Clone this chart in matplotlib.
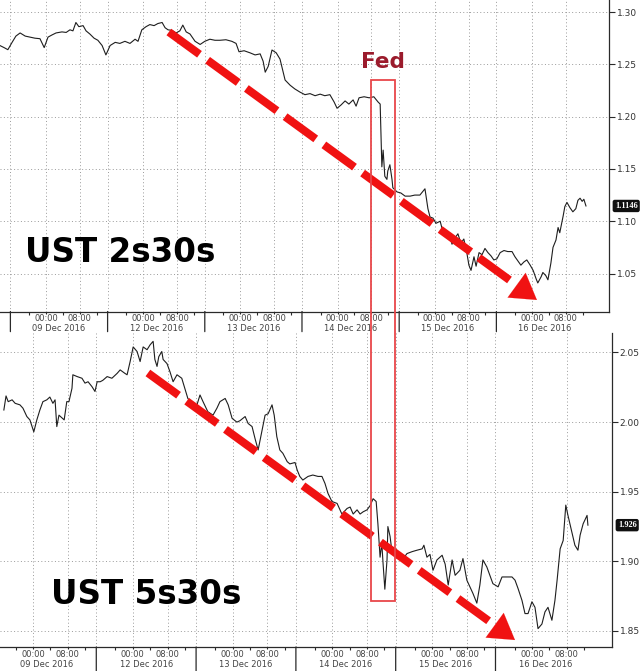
import matplotlib
matplotlib.use('Agg')
import matplotlib.pyplot as plt
import matplotlib.transforms as mtransforms
from matplotlib.patches import Rectangle

plt.rcParams['font.family'] = ['DejaVu Sans']

# ---------------- data ----------------
SESSION_HOURS = 23.0      # trading-session length shown per day
MIDNIGHT_OFFSET = 8.42    # 00:00 position inside a session (hours)
day_labels = ['09 Dec 2016', '12 Dec 2016', '13 Dec 2016',
              '14 Dec 2016', '15 Dec 2016', '16 Dec 2016']
time_labels = ['00:00', '08:00']

# UST 2s30s (session hours since 09 Dec session open, spread)
t_2s30s = [-2.5, -1.5, -0.6, 0.4, 1.3, 2.3, 3.5, 4.6, 5.8, 7.0,
           8.0, 8.9, 9.8, 10.8, 12.2, 13.2, 14.1, 14.8, 15.5, 16.2,
           17.2, 17.9, 18.8, 19.8, 20.7, 21.7, 22.6, 23.6, 24.8, 25.9,
           27.1, 28.3, 29.5, 30.2, 31.1, 32.1, 33.0, 34.0, 34.9, 35.9,
           36.6, 37.3, 38.2, 39.2, 40.1, 40.8, 41.6, 42.5, 43.7, 44.9,
           46.0, 47.2, 48.4, 49.6, 51.0, 52.4, 53.4, 54.1, 55.3, 56.7,
           57.9, 59.1, 59.8, 60.3, 61.0, 61.9, 62.9, 63.8, 65.0, 66.2,
           67.3, 68.5, 69.7, 70.9, 72.1, 73.3, 74.4, 75.6, 76.6, 77.3,
           78.2, 79.2, 80.1, 81.1, 81.8, 82.5, 83.7, 84.9, 86.0, 87.0,
           87.5, 87.9, 88.2, 88.6, 89.1, 89.3, 89.8, 90.3, 90.5, 91.5,
           92.4, 93.4, 94.6, 95.7, 96.9, 98.1, 98.8, 99.3, 100.0, 100.7,
           101.7, 102.4, 103.1, 103.8, 104.5, 105.2, 105.9, 106.6, 107.3, 108.0,
           108.5, 109.0, 109.7, 110.2, 110.9, 111.6, 112.3, 113.0, 113.7, 114.4,
           115.1, 115.9, 116.8, 117.7, 118.7, 119.4, 120.1, 120.8, 121.5, 122.2,
           123.0, 123.7, 124.4, 124.8, 125.6, 126.0, 126.7, 127.2, 127.9, 128.4,
           129.1, 129.6, 130.0, 130.8, 131.2, 131.7, 132.4, 133.1, 133.8, 134.3,
           134.8, 135.3, 135.7, 136.2]
v_2s30s = [1.268, 1.266, 1.264, 1.271, 1.277, 1.280, 1.277, 1.276, 1.275, 1.2745,
           1.266, 1.276, 1.278, 1.280, 1.281, 1.2805, 1.283, 1.282, 1.290, 1.286,
           1.287, 1.282, 1.279, 1.275, 1.273, 1.268, 1.259, 1.268, 1.271, 1.270,
           1.272, 1.270, 1.274, 1.272, 1.283, 1.286, 1.288, 1.287, 1.289, 1.290,
           1.285, 1.283, 1.2825, 1.280, 1.282, 1.2875, 1.281, 1.279, 1.272, 1.269,
           1.272, 1.274, 1.273, 1.273, 1.2735, 1.272, 1.270, 1.262, 1.263, 1.261,
           1.259, 1.260, 1.253, 1.2425, 1.248, 1.2637, 1.261, 1.255, 1.235, 1.230,
           1.2265, 1.2235, 1.221, 1.222, 1.220, 1.2215, 1.220, 1.221, 1.214, 1.208,
           1.211, 1.215, 1.212, 1.216, 1.210, 1.218, 1.219, 1.218, 1.219, 1.214,
           1.212, 1.152, 1.168, 1.143, 1.140, 1.148, 1.154, 1.140, 1.132, 1.128,
           1.127, 1.124, 1.124, 1.125, 1.125, 1.131, 1.112, 1.104, 1.103, 1.098,
           1.100, 1.089, 1.085, 1.088, 1.078, 1.084, 1.088, 1.079, 1.083, 1.070,
           1.058, 1.053, 1.066, 1.057, 1.070, 1.068, 1.074, 1.070, 1.067, 1.063,
           1.064, 1.070, 1.072, 1.071, 1.071, 1.066, 1.062, 1.058, 1.061, 1.063,
           1.058, 1.053, 1.045, 1.041, 1.047, 1.051, 1.048, 1.044, 1.060, 1.075,
           1.082, 1.094, 1.089, 1.105, 1.114, 1.118, 1.113, 1.109, 1.112, 1.120,
           1.122, 1.119, 1.121, 1.1146]

# UST 5s30s
t_5s30s = [1.7, 2.2, 2.7, 3.6, 4.3, 5.4, 6.1, 7.0, 7.7, 8.6,
           9.3, 10.0, 10.7, 11.6, 12.3, 13.0, 13.5, 13.9, 14.4, 15.1,
           15.6, 16.2, 16.7, 17.4, 17.6, 18.6, 19.7, 20.4, 21.1, 22.0,
           22.7, 23.2, 23.9, 24.5, 25.5, 26.6, 27.8, 28.5, 29.6, 30.1,
           30.8, 31.5, 32.4, 33.1, 33.8, 34.7, 35.4, 36.1, 36.5, 37.0,
           37.4, 38.1, 38.4, 39.3, 40.0, 40.7, 41.6, 42.7, 43.4, 44.1,
           45.1, 46.2, 46.9, 47.6, 48.7, 49.9, 50.8, 51.5, 52.7, 53.4,
           54.3, 55.4, 56.1, 57.3, 58.0, 58.9, 59.6, 60.3, 61.2, 61.9,
           62.6, 63.5, 64.0, 64.6, 65.3, 66.0, 67.0, 67.6, 68.8, 69.3,
           69.9, 70.6, 71.8, 72.9, 74.1, 75.0, 75.7, 76.4, 77.3, 78.5,
           79.6, 80.8, 81.5, 82.2, 83.1, 83.8, 84.5, 85.4, 86.1, 86.8,
           87.5, 87.9, 88.4, 88.8, 89.1, 89.5, 90.0, 90.2, 90.7, 91.1,
           91.8, 92.5, 93.5, 94.6, 95.8, 96.9, 98.1, 98.5, 99.2, 99.9,
           100.6, 101.5, 102.7, 103.4, 104.1, 105.0, 105.7, 106.8, 107.5, 108.4,
           109.1, 109.8, 110.7, 111.4, 112.1, 113.0, 113.7, 114.4, 115.6, 116.5,
           117.6, 118.8, 119.5, 120.2, 121.1, 121.8, 122.5, 123.4, 124.1, 124.8,
           125.7, 126.4, 127.1, 128.0, 128.7, 129.2, 129.9, 130.6, 131.2, 131.7,
           132.6, 133.3, 134.0, 134.5, 135.2, 136.1, 136.3]
v_5s30s = [2.0087, 2.0188, 2.0147, 2.016, 2.0135, 2.0124, 2.010, 2.004, 2.0016, 1.993,
           2.0016, 2.0087, 2.0147, 2.016, 2.018, 2.0135, 2.016, 1.9968, 2.005, 2.003,
           2.0016, 2.0147, 2.0147, 2.0243, 2.034, 2.0327, 2.0315, 2.028, 2.029, 2.0255,
           2.022, 2.029, 2.029, 2.030, 2.0327, 2.0315, 2.035, 2.0375, 2.035, 2.034,
           2.0435, 2.054, 2.0507, 2.0435, 2.054, 2.052, 2.0555, 2.058, 2.045, 2.040,
           2.047, 2.0507, 2.045, 2.042, 2.036, 2.029, 2.034, 2.0315, 2.0243, 2.017,
           2.0135, 2.0124, 2.0195, 2.0147, 2.0075, 2.005, 2.010, 2.0147, 2.017, 2.0124,
           2.0027, 2.000, 2.001, 2.004, 1.999, 1.9968, 1.988, 1.980, 1.994, 2.005,
           2.006, 2.0124, 2.005, 1.9896, 1.980, 1.9776, 1.9716, 1.970, 1.971, 1.9656,
           1.961, 1.9584, 1.961, 1.962, 1.961, 1.961, 1.956, 1.9488, 1.943, 1.9416,
           1.934, 1.938, 1.939, 1.934, 1.937, 1.934, 1.9356, 1.937, 1.940, 1.945,
           1.943, 1.927, 1.903, 1.913, 1.898, 1.880, 1.901, 1.925, 1.918, 1.908,
           1.907, 1.903, 1.901, 1.9056, 1.907, 1.908, 1.909, 1.9116, 1.903, 1.905,
           1.8936, 1.901, 1.9044, 1.898, 1.883, 1.901, 1.890, 1.8936, 1.902, 1.8865,
           1.8817, 1.877, 1.870, 1.883, 1.901, 1.896, 1.890, 1.884, 1.8817, 1.8888,
           1.8888, 1.8888, 1.8865, 1.8805, 1.872, 1.8625, 1.8625, 1.871, 1.867, 1.8517,
           1.855, 1.8637, 1.867, 1.8577, 1.872, 1.8865, 1.909, 1.915, 1.9404, 1.933,
           1.921, 1.9116, 1.908, 1.9188, 1.927, 1.933, 1.926]

assert len(t_2s30s) == len(v_2s30s), (len(t_2s30s), len(v_2s30s))
assert len(t_5s30s) == len(v_5s30s), (len(t_5s30s), len(v_5s30s))

yticks_2s30s = [1.05, 1.10, 1.15, 1.20, 1.25, 1.30]
yticks_5s30s = [1.85, 1.90, 1.95, 2.00, 2.05]
last_2s30s = 1.1146
last_5s30s = 1.926
title_2s30s = 'UST 2s30s'
title_5s30s = 'UST 5s30s'

# trend arrows (time, spread) start -> tip
trend_2s30s = [(37.5, 1.2809), (124.6, 1.0247)]
trend_5s30s = [(34.9, 2.0353), (119.5, 1.8435)]
fed_window = (85.3, 91.1)   # hours, FOMC decision window
fed_label = 'Fed'

# ---------------- figure ----------------
W, H = 640, 671
fig = plt.figure(figsize=(W / 100, H / 100), dpi=100)
fig.patch.set_facecolor('white')

ax1 = fig.add_axes([0, 1 - 311.5 / H, 609 / W, 311.5 / H])
ax2 = fig.add_axes([0, 1 - 647 / H, 612 / W, 314 / H])

GRID = dict(color='#9a9a9a', lw=0.7, ls=(0, (1, 2.5)))
AXC = '#2a2a2a'
TICK_FS = 6.0


def style(ax, xlim, ylim, yticks, t_lab_pad, d_lab_off, sep_len):
    ax.set_xlim(*xlim)
    ax.set_ylim(*ylim)
    ax.set_facecolor('white')
    for s in ('top', 'left'):
        ax.spines[s].set_visible(False)
    for s in ('right', 'bottom'):
        ax.spines[s].set_color(AXC)
        ax.spines[s].set_linewidth(0.9)
    ax.yaxis.tick_right()
    ax.set_yticks(yticks)
    ax.set_yticklabels([f'{v:.2f}' for v in yticks])
    ax.tick_params(axis='y', direction='out', length=4, width=0.8, pad=1.5,
                   labelsize=6.5, labelcolor='#333333', color=AXC)
    for v in yticks:
        ax.axhline(v, zorder=0, **GRID)

    seps, majors, minors = [], [], []
    for k in range(len(day_labels)):
        s0 = SESSION_HOURS * k
        m0 = s0 + MIDNIGHT_OFFSET
        seps.append(s0)
        majors += [m0, m0 + 8]
        minors += [m0 - 4, m0 + 4, m0 + 12]
    ax.set_xticks(majors)
    ax.set_xticklabels(time_labels * len(day_labels))
    ax.set_xticks(minors, minor=True)
    ax.tick_params(axis='x', which='major', direction='out', length=1.5, width=0.8,
                   color=AXC, labelsize=TICK_FS, labelcolor='#444444', pad=t_lab_pad)
    ax.tick_params(axis='x', which='minor', direction='out', length=2.5, width=0.8,
                   color=AXC)
    xt = ax.get_xaxis_transform()
    for x in majors + seps:
        if xlim[0] <= x <= xlim[1]:
            ax.axvline(x, zorder=0, **GRID)
    for s in seps:
        if xlim[0] <= s <= xlim[1]:
            ax.annotate('', xy=(s, 0), xycoords=xt, xytext=(0, -sep_len),
                        textcoords='offset points', annotation_clip=False,
                        arrowprops=dict(arrowstyle='-', color=AXC, lw=0.9,
                                        shrinkA=0, shrinkB=0))
    for k, lab in enumerate(day_labels):
        c = SESSION_HOURS * (k + 0.5)
        ax.annotate(lab, xy=(c, 0), xycoords=xt, xytext=(0, -d_lab_off),
                    textcoords='offset points', ha='center', va='center',
                    fontsize=TICK_FS, color='#444444', annotation_clip=False)


style(ax1, (-2.46, 141.65), (1.0137, 1.3115), yticks_2s30s, 0.0, 12.4, 14.5)
style(ax2, (0.81, 141.85), (1.8385, 2.064), yticks_5s30s, 0.9, 12.7, 18.0)

LINE = dict(color='#1e1e1e', lw=0.8, zorder=3)
ax1.plot(t_2s30s, v_2s30s, **LINE)
ax2.plot(t_5s30s, v_5s30s, **LINE)


def last_label(ax, v, txt):
    ax.annotate(txt, xy=(1, v), xycoords=('axes fraction', 'data'),
                xytext=(4.2, 0), textcoords='offset points', ha='left', va='center',
                fontsize=6.0, fontweight='bold', color='white', annotation_clip=False,
                family=['Liberation Serif', 'DejaVu Serif'],
                bbox=dict(boxstyle='round,pad=0.18', fc='#101010', ec='#101010'))


last_label(ax1, last_2s30s, f'{last_2s30s:.4f}')
last_label(ax2, last_5s30s, f'{last_5s30s:.3f}')

ax1.text(0.041, 0.159, title_2s30s, transform=ax1.transAxes, fontsize=23.5,
         fontweight='bold', color='black', ha='left', va='baseline', zorder=5)
ax2.text(0.083, 0.137, title_5s30s, transform=ax2.transAxes, fontsize=23.5,
         fontweight='bold', color='black', ha='left', va='baseline', zorder=5)

RED = '#f01212'


def trend_arrow(ax, start, tip):
    f = 0.945
    base = (start[0] + f * (tip[0] - start[0]), start[1] + f * (tip[1] - start[1]))
    ax.annotate('', xy=base, xytext=start, annotation_clip=False, zorder=6,
                arrowprops=dict(arrowstyle='-', color=RED, lw=5.8,
                                linestyle=(0, (4.7, 1.25)), capstyle='butt',
                                shrinkA=0, shrinkB=0))
    ax.annotate('', xy=tip, xytext=base, annotation_clip=False, zorder=6,
                arrowprops=dict(arrowstyle='-|>,head_length=0.9,head_width=0.55',
                                mutation_scale=20, color=RED, lw=0.1,
                                shrinkA=0, shrinkB=0))


trend_arrow(ax1, *trend_2s30s)
trend_arrow(ax2, *trend_5s30s)

# Fed window box spanning both panels
bt = mtransforms.blended_transform_factory(ax1.transData, fig.transFigure)
y_bot, y_top = 1 - 601 / H, 1 - 80 / H
box = Rectangle((fed_window[0], y_bot), fed_window[1] - fed_window[0], y_top - y_bot,
                transform=bt, fill=False, edgecolor='#e8474a', lw=1.3, zorder=10)
fig.add_artist(box)
fig.text((fed_window[0] + fed_window[1]) / 2, 1 - 68 / H, fed_label, transform=bt,
         ha='center', va='baseline', fontsize=15.5, fontweight='bold', color='#9b1b2c')

fig.savefig('out.png', dpi=100, facecolor='white')
